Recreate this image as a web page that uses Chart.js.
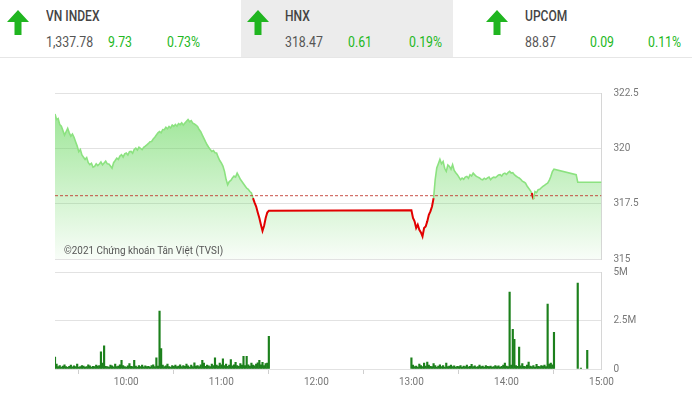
<!DOCTYPE html>
<html>
<head>
<meta charset="utf-8">
<script src="https://cdn.jsdelivr.net/npm/chart.js@4.4.0/dist/chart.umd.min.js"></script>
<style>
  body { margin: 0; width: 692px; height: 393px; overflow: hidden; background: #fff; font-family: Roboto, sans-serif; position: relative; }
  .hdr-bg { position: absolute; top: 0; left: 241px; width: 212px; height: 57px; background: #ececec; }
  .hdr-line { position: absolute; top: 57px; left: 0; width: 692px; height: 1px; background: #e6e6e6; }
  .arrow { position: absolute; top: 10px; }
  .name { position: absolute; top: 8px; font-size: 14px; font-weight: 500; color: #444; line-height: 16px; transform: scaleX(0.86); transform-origin: left; }
  .val { position: absolute; top: 34px; font-size: 14px; color: #555; line-height: 16px; transform: scaleX(0.88); transform-origin: left; }
  .up { color: #22b822; }
  .wm { position: absolute; left: 64px; top: 243px; font-size: 11.5px; color: #555; transform: scaleX(0.86); transform-origin: left; white-space: nowrap; }
  canvas { position: absolute; left: 0; }
</style>
</head>
<body>
<div class="hdr-bg"></div>
<div class="hdr-line"></div>
<div id="header"></div>

<canvas id="price" width="692" height="190" style="top:80px"></canvas>
<canvas id="vol" width="692" height="131" style="top:262px"></canvas>
<div class="wm">©2021 Chứng khoán Tân Việt (TVSI)</div>

<script>
// header quotes
const indexNames = ["VN INDEX", "HNX", "UPCOM"];
const indexValues = ["1,337.78", "318.47", "88.87"];
const indexChanges = ["9.73", "0.61", "0.09"];
const indexPercents = ["0.73%", "0.19%", "0.11%"];

// HNX intraday
const refPrice = 317.86;
const priceTicks = [315, 317.5, 320, 322.5];
const hourTicks = ["10:00", "11:00", "12:00", "13:00", "14:00", "15:00"];
const sessionStart = "09:15";
const sessionEnd = "15:00";

const priceTimes = [
  "09:15","09:16","09:17","09:18","09:19","09:20","09:21","09:22","09:23","09:24",
  "09:25","09:26","09:27","09:28","09:29","09:30","09:31","09:32","09:33","09:34",
  "09:35","09:36","09:37","09:38","09:39","09:40","09:41","09:42","09:43","09:44",
  "09:45","09:46","09:47","09:48","09:49","09:50","09:51","09:52","09:53","09:54",
  "09:55","09:56","09:57","09:58","09:59","10:00","10:01","10:02","10:03","10:04",
  "10:05","10:06","10:07","10:08","10:10","10:11","10:12","10:13","10:14","10:15",
  "10:16","10:17","10:18","10:19","10:20","10:21","10:22","10:23","10:24","10:25",
  "10:26","10:27","10:28","10:29","10:30","10:31","10:32","10:33","10:34","10:35",
  "10:36","10:37","10:38","10:39","10:40","10:41","10:42","10:43","10:44","10:45",
  "10:46","10:47","10:48","10:49","10:50","10:51","10:52","10:53","10:54","10:55",
  "10:56","10:57","10:58","10:59","11:00","11:01","11:02","11:03","11:04","11:05",
  "11:06","11:07","11:08","11:09","11:10","11:11","11:12","11:13","11:14","11:15",
  "11:16","11:17","11:18","11:19","11:20","11:21","11:22","11:23","11:24","11:25",
  "11:26","11:27","11:28","11:29","11:30",
  "13:00","13:01","13:02","13:03","13:04","13:05","13:06","13:07","13:08","13:09",
  "13:10","13:11","13:12","13:13","13:14","13:15","13:16","13:17","13:18","13:19",
  "13:20","13:21","13:22","13:23","13:24","13:25","13:26","13:27","13:28","13:29",
  "13:30","13:31","13:32","13:33","13:34","13:35","13:36","13:37","13:38","13:39",
  "13:40","13:41","13:42","13:43","13:44","13:45","13:46","13:47","13:48","13:49",
  "13:50","13:51","13:52","13:53","13:54","13:55","13:56","13:57","13:58","13:59",
  "14:00","14:01","14:02","14:03","14:04","14:05","14:06","14:07","14:08","14:09",
  "14:10","14:11","14:12","14:13","14:14","14:15","14:16","14:17","14:18","14:19",
  "14:20","14:21","14:22","14:23","14:24","14:25","14:26","14:27","14:28","14:29",
  "14:30","14:44","14:45","15:00"
];
const priceValues = [
  321.55,321.30,321.35,321.07,321.00,320.80,320.60,320.75,320.90,320.70,
  320.55,320.65,320.50,320.30,320.10,319.85,319.95,319.70,319.60,319.50,
  319.58,319.35,319.26,319.32,319.15,319.18,319.30,319.22,319.29,319.38,
  319.25,319.34,319.42,319.30,319.29,319.20,319.10,319.35,319.45,319.56,
  319.50,319.65,319.71,319.60,319.75,319.79,319.70,319.85,319.86,319.78,
  319.95,320.01,319.92,320.05,319.94,320.05,320.10,320.16,320.22,320.30,
  320.31,320.42,320.50,320.60,320.70,320.76,320.70,320.85,320.84,320.95,
  320.88,320.99,320.92,321.05,320.99,321.08,321.00,321.12,321.07,321.15,
  321.05,321.14,321.22,321.30,321.20,321.25,321.14,321.10,321.05,320.99,
  320.85,320.75,320.60,320.45,320.30,320.16,320.05,319.95,319.86,319.90,
  319.80,319.79,319.60,319.45,319.34,319.20,318.96,318.60,318.35,318.50,
  318.55,318.66,318.75,318.70,318.88,318.75,318.60,318.50,318.40,318.30,
  318.20,318.15,318.05,317.98,317.75,317.55,317.37,317.10,316.85,316.55,
  316.27,316.50,316.85,317.10,317.18,
  317.20,316.85,316.70,316.40,316.55,316.32,316.20,316.02,316.40,316.47,
  316.70,317.00,317.15,317.37,317.75,318.58,319.11,319.30,319.50,319.30,
  319.41,319.10,318.96,319.25,319.18,319.05,319.26,319.00,318.90,318.81,
  318.70,318.58,318.66,318.60,318.70,318.73,318.65,318.81,318.75,318.88,
  318.80,318.73,318.70,318.66,318.60,318.58,318.65,318.60,318.66,318.70,
  318.58,318.66,318.70,318.68,318.73,318.80,318.81,318.75,318.85,318.88,
  318.82,318.90,318.96,318.88,318.90,318.81,318.75,318.70,318.66,318.60,
  318.52,318.48,318.43,318.30,318.20,318.10,317.98,317.70,318.05,318.00,
  318.13,318.15,318.22,318.28,318.33,318.38,318.43,318.55,318.73,318.95,
  319.06,318.81,318.47,318.47
];

// volume in millions, one bar per minute
const volMorningStart = "09:15";
const volMorning = [
  0.62,0.25,0.12,0.18,0.10,0.15,0.22,0.12,0.09,0.14,
  0.20,0.11,0.16,0.13,0.25,0.10,0.12,0.18,0.15,0.10,
  0.13,0.22,0.16,0.10,0.14,0.12,0.20,0.15,0.18,0.88,
  0.30,1.19,0.14,0.12,0.10,0.20,0.16,0.11,0.25,0.13,
  0.15,0.22,0.45,0.18,0.12,0.10,0.16,0.28,0.14,0.12,
  0.45,0.15,0.10,0.18,0.13,0.20,0.11,0.16,0.12,0.14,
  0.10,0.18,0.22,0.12,0.58,0.15,2.99,1.05,0.20,0.12,
  0.16,0.25,0.13,0.10,0.18,0.14,0.20,0.12,0.15,0.22,
  0.12,0.18,0.14,0.25,0.16,0.10,0.20,0.13,0.32,0.15,
  0.18,0.12,0.22,0.45,0.30,0.14,0.20,0.16,0.12,0.25,
  0.18,0.58,0.20,0.15,0.30,0.22,0.53,0.18,0.25,0.14,
  0.20,0.48,0.16,0.22,0.35,0.18,0.14,0.28,0.20,0.65,
  0.18,0.65,0.22,0.15,0.30,0.20,0.16,0.25,0.32,0.45,
  0.22,0.35,0.18,0.28,0.30,1.68
];
const volAfternoonStart = "13:00";
const volAfternoon = [
  0.57,0.20,0.12,0.15,0.10,0.25,0.18,0.13,0.30,0.15,
  0.36,0.20,0.14,0.12,0.28,0.18,0.10,0.15,0.22,0.13,
  0.18,0.10,0.30,0.12,0.15,0.20,0.13,0.16,0.10,0.14,
  0.12,0.18,0.10,0.15,0.13,0.20,0.11,0.14,0.24,0.12,
  0.16,0.10,0.13,0.20,0.12,0.15,0.10,0.18,0.14,0.12,
  0.15,0.10,0.13,0.18,0.12,0.16,0.10,0.14,0.20,0.30,
  0.15,0.12,3.97,0.20,2.04,1.53,0.18,0.14,1.13,0.16,
  0.28,0.14,0.12,0.20,0.36,0.15,0.12,0.18,0.10,0.24,
  0.14,0.12,0.18,0.15,0.20,0.12,3.35,0.25,0.30,0.22,
  1.89
];
const volLateTimes = ["14:45", "14:47", "14:51"];
const volLate = [4.43, 0.05, 0.96];
const volTicks = [0, 2.5, 5];

function toMin(s) {
  const [h, m] = s.split(":").map(Number);
  return h * 60 + m;
}
function fmtMin(v) {
  const h = Math.floor(v / 60), m = v % 60;
  return String(h).padStart(2, "0") + ":" + String(m).padStart(2, "0");
}

// header
const arrowLeft = [7, 247, 486];
const nameLeft = [46, 285, 525];
const chgLeft = [108, 348, 590];
const pctLeft = [167, 409, 648];
let html = "";
for (let i = 0; i < indexNames.length; i++) {
  html += `<svg class="arrow" style="left:${arrowLeft[i]}px" width="22" height="25" viewBox="0 0 22 25">
      <polygon points="11,0 22,12 14.5,12 14.5,25 7.5,25 7.5,12 0,12" fill="#20b520"/></svg>`;
  html += `<div class="name" style="left:${nameLeft[i]}px">${indexNames[i]}</div>`;
  html += `<div class="val" style="left:${nameLeft[i]}px">${indexValues[i]}</div>`;
  html += `<div class="val up" style="left:${chgLeft[i]}px">${indexChanges[i]}</div>`;
  html += `<div class="val up" style="left:${pctLeft[i]}px">${indexPercents[i]}</div>`;
}
document.getElementById("header").innerHTML = html;

const xMin = toMin(sessionStart), xMax = toMin(sessionEnd);
const gridColor = "#e2e2e2";
const tickFont = { family: "Roboto", size: 10 };
const tickColor = "#777";
// right-hand axis: gap before labels comes from an invisible tick mark,
// so ticks.padding does not push the plot area down
const rightGrid = { color: gridColor, drawTicks: true, tickLength: 12, tickColor: "rgba(0,0,0,0)" };

const pricePoints = priceTimes.map((t, i) => ({ x: toMin(t), y: priceValues[i] }));
const green = "rgb(140,226,128)";
const red = "rgb(226,0,0)";
const below = (s) => (s.p0.parsed.y + s.p1.parsed.y) / 2 < refPrice;

new Chart(document.getElementById("price"), {
  type: "line",
  data: {
    datasets: [
      {
        // area under the index
        data: pricePoints,
        borderWidth: 0,
        pointRadius: 0,
        tension: 0,
        fill: "start",
        backgroundColor: (c) => {
          const a = c.chart.chartArea;
          if (!a) return "rgba(100,215,90,0.3)";
          const g = c.chart.ctx.createLinearGradient(0, a.top, 0, a.bottom);
          g.addColorStop(0, "rgba(100,215,90,0.7)");
          g.addColorStop(1, "rgba(100,215,90,0.04)");
          return g;
        },
        order: 3
      },
      {
        // index line, red under reference
        data: pricePoints,
        borderWidth: 1.6,
        borderColor: green,
        pointRadius: 0,
        tension: 0,
        fill: false,
        segment: {
          borderColor: (s) => below(s) ? red : green,
          borderWidth: (s) => below(s) ? 2 : 1.6
        },
        order: 2
      },
      {
        data: [{ x: xMin, y: refPrice }, { x: xMax, y: refPrice }],
        borderColor: "rgba(190,50,40,0.85)",
        borderWidth: 1,
        borderDash: [3, 2],
        pointRadius: 0,
        fill: false,
        order: 1
      }
    ]
  },
  options: {
    animation: false,
    responsive: false,
    devicePixelRatio: 1,
    layout: { padding: { left: 55, top: 13, bottom: 11, right: 0 } },
    plugins: { legend: { display: false }, tooltip: { enabled: false } },
    scales: {
      x: { type: "linear", min: xMin, max: xMax, display: false },
      y: {
        position: "right",
        min: 315, max: 322.5,
        afterBuildTicks: (s) => { s.ticks = priceTicks.map(v => ({ value: v })); },
        afterFit: (s) => { s.width = 90.5; },
        grid: rightGrid,
        border: { color: "#d6d6d6" },
        ticks: { padding: 0, font: tickFont, color: tickColor, callback: (v) => String(v) }
      }
    }
  }
});

const volPoints = [];
volMorning.forEach((v, i) => volPoints.push({ x: toMin(volMorningStart) + i, y: v }));
volAfternoon.forEach((v, i) => volPoints.push({ x: toMin(volAfternoonStart) + i, y: v }));
volLateTimes.forEach((t, i) => volPoints.push({ x: toMin(t), y: volLate[i] }));

new Chart(document.getElementById("vol"), {
  type: "bar",
  data: {
    datasets: [{
      data: volPoints,
      backgroundColor: "rgb(28,128,28)",
      barThickness: 1.5
    }]
  },
  options: {
    animation: false,
    responsive: false,
    devicePixelRatio: 1,
    layout: { padding: { left: 55, top: 10, bottom: 0, right: 0 } },
    plugins: { legend: { display: false }, tooltip: { enabled: false } },
    scales: {
      x: {
        type: "linear", min: xMin, max: xMax, offset: false,
        afterBuildTicks: (s) => { s.ticks = hourTicks.map(t => ({ value: toMin(t) })); },
        afterFit: (s) => { s.height = 24; },
        grid: { drawOnChartArea: false, tickLength: 5, color: "#cfcfcf" },
        border: { display: false },
        ticks: { padding: 2, font: tickFont, color: tickColor, maxRotation: 0, callback: (v) => fmtMin(v) }
      },
      y: {
        position: "right",
        min: 0, max: 5,
        afterBuildTicks: (s) => { s.ticks = volTicks.map(v => ({ value: v })); },
        afterFit: (s) => { s.width = 90.5; },
        grid: rightGrid,
        border: { color: "#d6d6d6" },
        ticks: { padding: 0, font: tickFont, color: tickColor, callback: (v) => v === 0 ? "0" : v + "M" }
      }
    }
  }
});
</script>
</body>
</html>
